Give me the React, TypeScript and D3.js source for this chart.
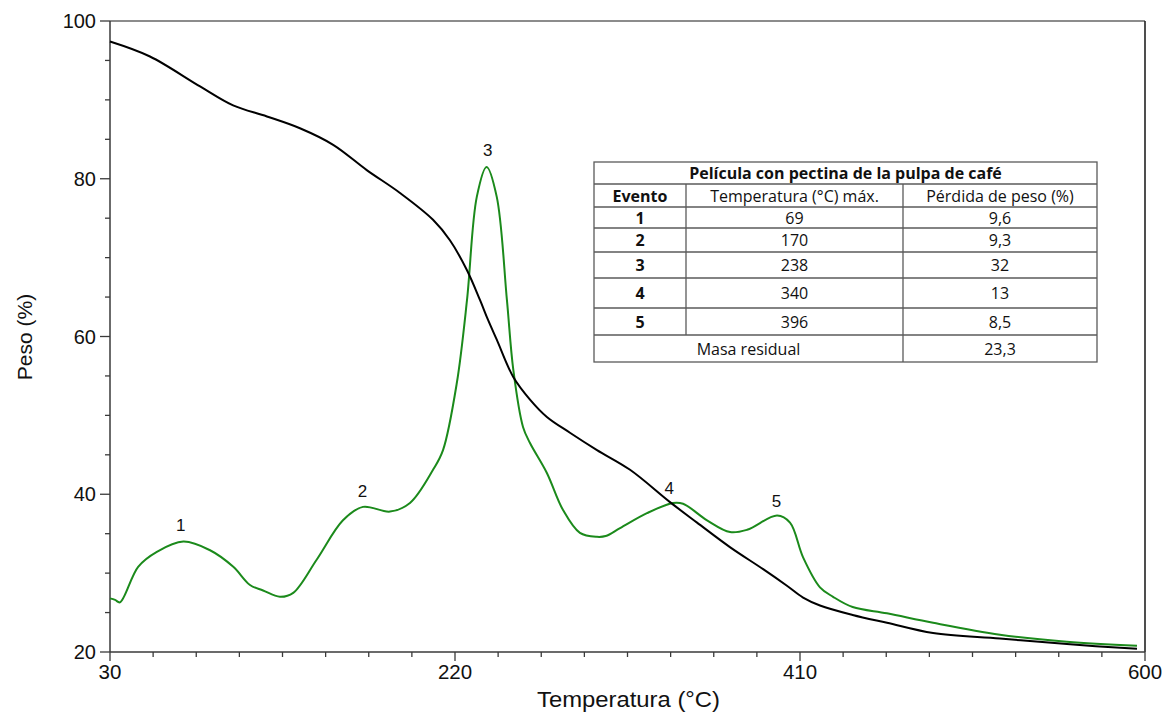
import React from "react";
import * as d3 from "d3";

const tgTemp = [30, 52, 79.6, 97.8, 116.4, 134.6, 152.9, 171.4, 189.7, 207.9, 217.2, 226.6, 233.8, 238.2, 243, 252, 261.3, 270.6, 283.3, 298.2, 316.4, 338.4, 353.3, 371.4, 389.7, 402.8, 411.7, 421, 439, 457.9, 483.3, 520.1, 557, 595.6];
const tgWeight = [97.4, 95.5, 91.7, 89.3, 87.9, 86.4, 84.3, 81.1, 78.2, 74.8, 72.2, 68.4, 64.6, 62.1, 59.6, 54.9, 52, 49.8, 47.8, 45.6, 43.1, 39, 36.4, 33.3, 30.5, 28.4, 26.9, 25.9, 24.7, 23.7, 22.4, 21.7, 21, 20.4];

const dtgTemp = [30, 32.8, 35.5, 45.5, 55.8, 70.4, 85.1, 97.9, 107.1, 114.3, 123.6, 130.9, 143.8, 158.3, 169.3, 184.2, 195.2, 207.9, 213.4, 221, 226.6, 232, 237.4, 243, 248.6, 252.1, 257.5, 261.3, 270.6, 279.5, 288.8, 298.2, 303, 310.9, 325.7, 340, 345.6, 358.8, 371.5, 380.9, 397.4, 404.5, 411.7, 421, 428.2, 439, 457.9, 483.3, 520.1, 557, 595.6];
const dtgValue = [26.8, 26.6, 26.3, 30.8, 32.7, 34, 32.9, 30.8, 28.5, 27.8, 27, 27.5, 31.7, 36.7, 38.4, 37.8, 38.9, 43.1, 45.6, 54.1, 64.6, 77.7, 81.5, 77.7, 64.6, 55.8, 48.5, 46.5, 42.7, 38, 35.1, 34.6, 34.7, 35.7, 37.6, 38.9, 38.8, 36.7, 35.2, 35.5, 37.3, 36.4, 32, 28.2, 27, 25.7, 24.9, 23.7, 22.2, 21.3, 20.8];

const eventLabels = ["1", "2", "3", "4", "5"];
const eventLabelT = [69, 169, 238, 338, 397];
const eventLabelP = [35.3, 39.7, 82.9, 40, 38.4];

const xMajorTicks = [30, 220, 410, 600];
const yMajorTicks = [20, 40, 60, 80, 100];

const tableTitle = "Película con pectina de la pulpa de café";
const tableHeaders = ["Evento", "Temperatura (°C) máx.", "Pérdida de peso (%)"];
const tableEvents = ["1", "2", "3", "4", "5"];
const tableTemps = ["69", "170", "238", "340", "396"];
const tableLoss = ["9,6", "9,3", "32", "13", "8,5"];
const residualLabel = "Masa residual";
const residualValue = "23,3";

export default function App() {
  const W = 1165, H = 713;
  const left = 110, right = 1145, top = 21, bottom = 652;
  const x = d3.scaleLinear().domain([30, 600]).range([left, right]);
  const y = d3.scaleLinear().domain([20, 100]).range([bottom, top]);

  const line = d3.line<[number, number]>()
    .x(d => x(d[0])).y(d => y(d[1]))
    .curve(d3.curveCatmullRom.alpha(0.5));
  const tgPath = line(tgTemp.map((t, i) => [t, tgWeight[i]]))!;
  const dtgPath = line(dtgTemp.map((t, i) => [t, dtgValue[i]]))!;

  const xMinor = d3.range(0, 25).map(i => 30 + i * 23.75);
  const yMinor = d3.range(20, 100.1, 5);

  const axisColor = "#3a3a3a";
  const font = "Liberation Sans";
  const tFont = "Open Sans";

  // table layout
  const tx0 = 594, tx1 = 1097, tc1 = 686, tc2 = 903;
  const rowY = [162, 184, 207, 228, 252, 278, 308, 335, 362];
  const gridColor = "#5a5a5a";
  const tfs = 16;

  const cellText = (txt: string, cx: number, r: number, bold = false) => (
    <text x={cx} y={(rowY[r] + rowY[r + 1]) / 2 + 6} textAnchor="middle"
      fontFamily={tFont} fontSize={tfs} fontWeight={bold ? 700 : 400} fill="#111">{txt}</text>
  );

  return (
    <svg width={W} height={H} style={{ position: "absolute", left: 0, top: 0, background: "#fff" }}>
      {/* frame */}
      <line x1={left} x2={right} y1={top} y2={top} stroke="#666" strokeWidth={1.5} />
      <line x1={right} x2={right} y1={top} y2={bottom} stroke="#222" strokeWidth={1.6} />
      <line x1={left} x2={left} y1={top} y2={bottom} stroke={axisColor} strokeWidth={1.5} />
      <line x1={left} x2={right} y1={bottom} y2={bottom} stroke={axisColor} strokeWidth={1.5} />

      {/* y ticks */}
      {yMinor.map(v => {
        const major = yMajorTicks.includes(v);
        return <line key={"yt" + v} x1={left - (major ? 10 : 5)} x2={left} y1={y(v)} y2={y(v)} stroke={axisColor} strokeWidth={1.3} />;
      })}
      {yMajorTicks.map(v => (
        <text key={"yl" + v} x={left - 14} y={y(v) + 7} textAnchor="end" fontFamily={font} fontSize={20} fill="#111">{v}</text>
      ))}
      {/* x ticks */}
      {xMinor.map((v, i) => {
        const major = i % 8 === 0;
        return <line key={"xt" + i} x1={x(v)} x2={x(v)} y1={bottom} y2={bottom + (major ? 9 : 5)} stroke={axisColor} strokeWidth={1.3} />;
      })}
      {xMajorTicks.map(v => (
        <text key={"xl" + v} x={x(v)} y={bottom + 27} textAnchor="middle" fontFamily={font} fontSize={20.5} fill="#111">{v}</text>
      ))}

      {/* axis titles */}
      <text x={537} y={707} textLength={183} lengthAdjust="spacingAndGlyphs" fontFamily={font} fontSize={21.5} fill="#111">Temperatura (°C)</text>
      <text transform={`translate(32,337) rotate(-90)`} textAnchor="middle" fontFamily={font} fontSize={21} fill="#111">Peso (%)</text>

      {/* curves */}
      <path d={dtgPath} fill="none" stroke="#1b8a1b" strokeWidth={2} />
      <path d={tgPath} fill="none" stroke="#000" strokeWidth={2} />

      {/* event labels */}
      {eventLabels.map((l, i) => (
        <text key={"ev" + i} x={x(eventLabelT[i])} y={y(eventLabelP[i])} textAnchor="middle" fontFamily={font} fontSize={17} fill="#111">{l}</text>
      ))}

      {/* table */}
      <g>
        <rect x={tx0} y={rowY[0]} width={tx1 - tx0} height={rowY[8] - rowY[0]} fill="#fff" stroke={gridColor} strokeWidth={1.3} />
        {rowY.slice(1, 8).map((ry, i) => (
          <line key={"rl" + i} x1={tx0} x2={tx1} y1={ry} y2={ry} stroke={gridColor} strokeWidth={1.3} />
        ))}
        <line x1={tc1} x2={tc1} y1={rowY[1]} y2={rowY[7]} stroke={gridColor} strokeWidth={1.3} />
        <line x1={tc2} x2={tc2} y1={rowY[1]} y2={rowY[8]} stroke={gridColor} strokeWidth={1.3} />
        {cellText(tableTitle, (tx0 + tx1) / 2, 0, true)}
        {cellText(tableHeaders[0], (tx0 + tc1) / 2, 1, true)}
        {cellText(tableHeaders[1], (tc1 + tc2) / 2, 1)}
        {cellText(tableHeaders[2], (tc2 + tx1) / 2, 1)}
        {tableEvents.map((e, i) => (
          <g key={"row" + i}>
            {cellText(e, (tx0 + tc1) / 2, i + 2, true)}
            {cellText(tableTemps[i], (tc1 + tc2) / 2, i + 2)}
            {cellText(tableLoss[i], (tc2 + tx1) / 2, i + 2)}
          </g>
        ))}
        {cellText(residualLabel, (tx0 + tc2) / 2, 7)}
        {cellText(residualValue, (tc2 + tx1) / 2, 7)}
      </g>
    </svg>
  );
}
